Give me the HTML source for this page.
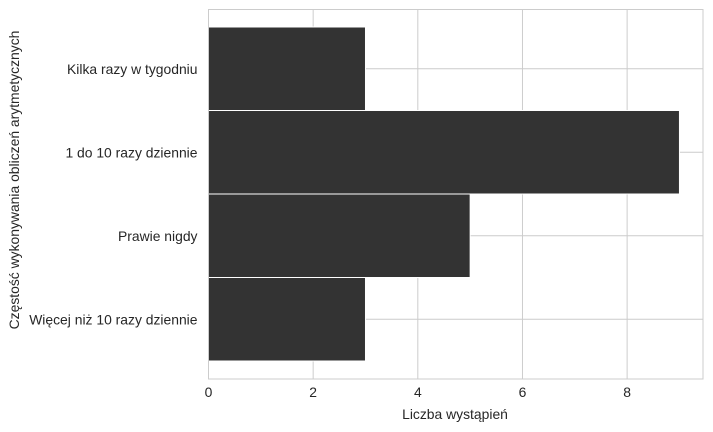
<!DOCTYPE html>
<html><head><meta charset="utf-8"><style>
html,body{margin:0;padding:0;background:#fff;}
svg{display:block;font-family:"Liberation Sans","DejaVu Sans",sans-serif;}
</style></head><body>
<svg id="chart" width="713" height="432">
<g id="grid"></g>
<g id="bars"></g>
<g id="axes"></g>
<text x="455" y="419" font-size="13.9" fill="#262626" text-anchor="middle">Liczba wystąpień</text>
<text transform="translate(19,180) rotate(-90)" font-size="13.9" fill="#262626" text-anchor="middle">Częstość wykonywania obliczeń arytmetycznych</text>
</svg>
<script>
const categories = ["Kilka razy w tygodniu","1 do 10 razy dziennie","Prawie nigdy","Więcej niż 10 razy dziennie"];
const values = [3, 9, 5, 3];
const xTicks = [0, 2, 4, 6, 8];
const NS="http://www.w3.org/2000/svg";
const L=208.5, R=703, T=9.5, B=379, xMax=9.45;
const x=v=>L+v/xMax*(R-L);
const bandTop=27, bandH=83.5;
const yc=i=>bandTop+bandH*(i+0.5);
function mk(t,a,p){const e=document.createElementNS(NS,t);for(const k in a)e.setAttribute(k,a[k]);p.appendChild(e);return e;}
const grid=document.getElementById('grid'),bars=document.getElementById('bars'),axes=document.getElementById('axes');
xTicks.forEach(v=>{
  const g=mk('line',{x1:x(v),x2:x(v),y1:T,y2:B,stroke:'#cccccc','stroke-width':1},grid);
  
  
  const t=mk('text',{x:x(v),y:B+18,'font-size':13.9,fill:'#262626','text-anchor':'middle'},axes);
  t.textContent=v;
  
  
});
categories.forEach((c,i)=>{
  const g=mk('line',{x1:L,x2:R,y1:yc(i),y2:yc(i),stroke:'#cccccc','stroke-width':1},grid);
  
  
  const b=mk('rect',{x:x(0),y:bandTop+bandH*i,width:x(values[i])-x(0),height:bandH,fill:'#333333',stroke:'#ffffff','stroke-width':1},bars);
  
  
  const t=mk('text',{x:L-11,y:yc(i)+5,'font-size':13.9,fill:'#262626','text-anchor':'end'},axes);
  t.textContent=c;
  
  
});
const f=mk('rect',{x:L,y:T,width:R-L,height:B-T,fill:'none',stroke:'#cccccc','stroke-width':1},axes);


</script>
</body></html>
